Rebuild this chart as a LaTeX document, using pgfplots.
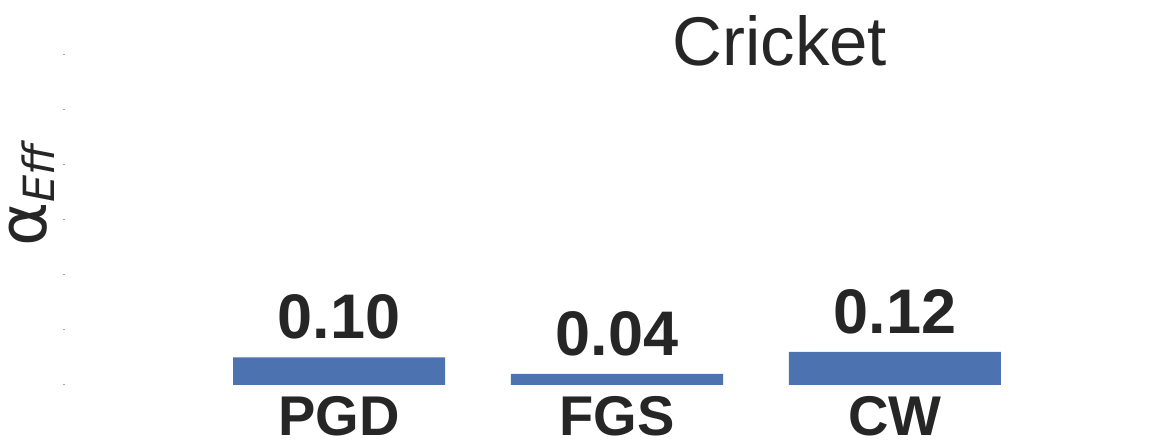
\documentclass[border=0pt]{standalone}
\usepackage{fontspec}
\setmainfont{Liberation Sans}
\newfontfamily\dejavu{DejaVu Sans}
\usepackage{pgfplots}
\pgfplotsset{compat=1.18}
\definecolor{barblue}{HTML}{4C72B0}
\definecolor{txt}{HTML}{262626}
\begin{document}
\begin{tikzpicture}
\path[use as bounding box] (0,0) rectangle (1159pt,446pt);
\begin{axis}[
  at={(63pt,61pt)}, anchor=south west,
  scale only axis, width=1096pt, height=385pt,
  xmin=-0.993, xmax=2.95, ymin=0, ymax=1.4,
  axis line style={draw=none},
  ybar, bar width=212pt, bar shift=0pt,
  xtick={0,1,2}, xticklabels={PGD,FGS,CW},
  xtick style={draw=none},
  xticklabel style={font=\fontsize{56}{60}\selectfont\bfseries, text=txt, inner sep=0pt, anchor=north, yshift=-10pt},
  ytick={0,0.2,0.4,0.6,0.8,1.0,1.2,1.4}, yticklabels={},
  ytick pos=left, major tick length=1.5pt,
  ytick style={draw=gray!70, line width=1pt},
  /pgf/number format/assume math mode=true,
  nodes near coords,
  nodes near coords style={font=\fontsize{63}{68}\selectfont\bfseries, text=txt, inner sep=0pt, anchor=south, yshift=18pt,
    /pgf/number format/.cd, fixed, fixed zerofill, precision=2},
  title={Cricket},
  title style={font=\fontsize{69}{75}\selectfont, text=txt, at={(rel axis cs:0.654,0.813)}, anchor=base},
  ylabel={{\dejavu\fontsize{67}{69}\selectfont α}\raisebox{-8pt}{\dejavu\fontsize{43}{45}\selectfont\itshape Eff}},
  ylabel style={text=txt, inner sep=0pt, at={(rel axis cs:0,0.5)}, anchor=base, yshift=16pt, xshift=-3pt},
]
\addplot[fill=barblue, draw=none] coordinates {(0,0.10) (1,0.04) (2,0.12)};
\end{axis}
\end{tikzpicture}
\end{document}
